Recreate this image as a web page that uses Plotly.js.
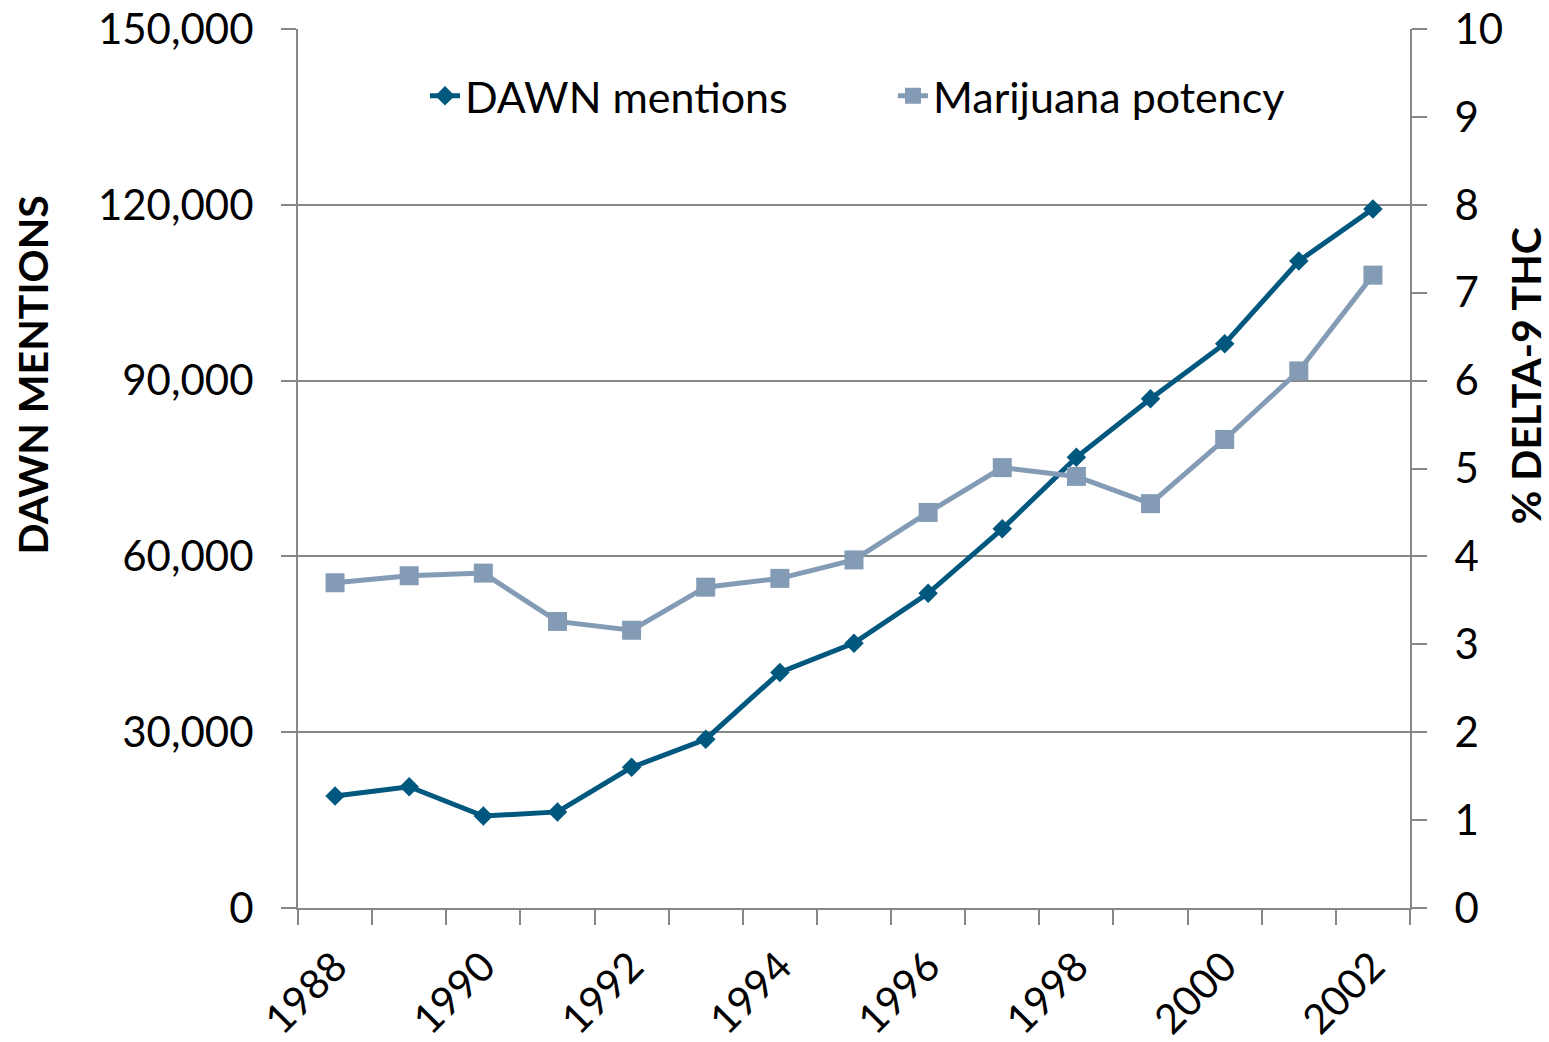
<!DOCTYPE html>
<html>
<head>
<meta charset="utf-8">
<script src="https://cdn.plot.ly/plotly-3.0.1.min.js"></script>
<style>html,body{margin:0;padding:0;background:#ffffff;}</style>
</head>
<body>
<div id="chart" style="width:1549px;height:1042px;"></div>
<script>
// ---- data ----
const years = [1988, 1989, 1990, 1991, 1992, 1993, 1994, 1995, 1996, 1997, 1998, 1999, 2000, 2001, 2002];
const dawnMentions = [19100, 20700, 15700, 16400, 24000, 28800, 40200, 45200, 53700, 64700, 76900, 86900, 96300, 110400, 119300];
const thcPotency = [3.70, 3.78, 3.81, 3.26, 3.16, 3.65, 3.75, 3.96, 4.50, 5.01, 4.91, 4.60, 5.33, 6.11, 7.20];
const yearTickLabels = ['1988', '1990', '1992', '1994', '1996', '1998', '2000', '2002'];
const seriesNames = ['DAWN mentions', 'Marijuana potency'];
const leftTitle = 'DAWN MENTIONS';
const rightTitle = '% DELTA-9 THC';

// ---- styling ----
const FONT = 'Lato, "Open Sans", sans-serif';
const AXIS_GRAY = '#878787';
const DAWN_COLOR = '#00587f';
const THC_COLOR = '#849bb5';

const yearTickVals = yearTickLabels.map(Number);
const boundaries = years.map(y => y - 0.5).concat([years[years.length - 1] + 0.5]);

const traces = [
  {
    x: years, y: dawnMentions, name: seriesNames[0], type: 'scatter', mode: 'lines+markers',
    line: {color: DAWN_COLOR, width: 5},
    marker: {symbol: 'diamond', size: 15, color: DAWN_COLOR},
    yaxis: 'y'
  },
  {
    x: years, y: thcPotency, name: seriesNames[1], type: 'scatter', mode: 'lines+markers',
    line: {color: THC_COLOR, width: 5},
    marker: {symbol: 'square', size: 19, color: THC_COLOR},
    yaxis: 'y2'
  }
];

const layout = {
  width: 1549, height: 1042,
  margin: {l: 298, r: 139, t: 29, b: 134, pad: 0},
  paper_bgcolor: '#ffffff', plot_bgcolor: '#ffffff',
  font: {family: FONT, size: 41, color: '#000000'},
  showlegend: true,
  legend: {
    orientation: 'h', x: 0.1142, y: 0.924, xanchor: 'left', yanchor: 'middle',
    font: {family: FONT, size: 43, color: '#000000'},
    bgcolor: 'rgba(0,0,0,0)', entrywidth: 423, entrywidthmode: 'pixels',
    itemwidth: 30
  },
  xaxis: {
    range: [boundaries[0], boundaries[boundaries.length - 1]],
    tickmode: 'array', tickvals: yearTickVals, ticktext: yearTickLabels,
    tickangle: -45, ticks: '', ticklabelstandoff: 16,
    tickfont: {family: FONT, size: 41, color: '#000000'},
    showline: true, linecolor: AXIS_GRAY, linewidth: 2,
    showgrid: false, zeroline: false,
    minor: {tickmode: 'array', tickvals: boundaries, ticks: 'outside', ticklen: 15, tickwidth: 2, tickcolor: AXIS_GRAY, showgrid: false}
  },
  yaxis: {
    range: [0, 150000], dtick: 30000, tick0: 0, tickformat: ',d',
    ticks: 'outside', ticklen: 15, tickwidth: 2, tickcolor: AXIS_GRAY,
    ticklabelstandoff: 19,
    tickfont: {family: FONT, size: 42, color: '#000000'},
    showline: true, linecolor: AXIS_GRAY, linewidth: 2,
    showgrid: true, gridcolor: AXIS_GRAY, gridwidth: 2, zeroline: false
  },
  yaxis2: {
    overlaying: 'y', side: 'right', anchor: 'x',
    range: [0, 10], dtick: 1, tick0: 0,
    ticks: 'outside', ticklen: 15, tickwidth: 2, tickcolor: AXIS_GRAY,
    ticklabelstandoff: 19,
    tickfont: {family: FONT, size: 42, color: '#000000'},
    showline: true, linecolor: AXIS_GRAY, linewidth: 2,
    showgrid: false, zeroline: false
  },
  yaxis3: {
    overlaying: 'y', side: 'right', anchor: 'x',
    range: [0, 10], dtick: 1, tick0: 0,
    ticks: 'inside', ticklen: 15, tickwidth: 2, tickcolor: AXIS_GRAY,
    showticklabels: false, showline: false, showgrid: false, zeroline: false
  },
  annotations: [
    {text: '<b>' + leftTitle + '</b>', xref: 'paper', yref: 'paper', x: -0.239, y: 0.606,
     xanchor: 'center', yanchor: 'middle', textangle: -90, showarrow: false,
     font: {family: FONT, size: 41, color: '#000000'}},
    {text: '<b>' + rightTitle + '</b>', xref: 'paper', yref: 'paper', x: 1.1034, y: 0.606,
     xanchor: 'center', yanchor: 'middle', textangle: -90, showarrow: false,
     font: {family: FONT, size: 41, color: '#000000'}}
  ]
};

Plotly.newPlot('chart', traces, layout, {displayModeBar: false, staticPlot: true});
</script>
</body>
</html>
